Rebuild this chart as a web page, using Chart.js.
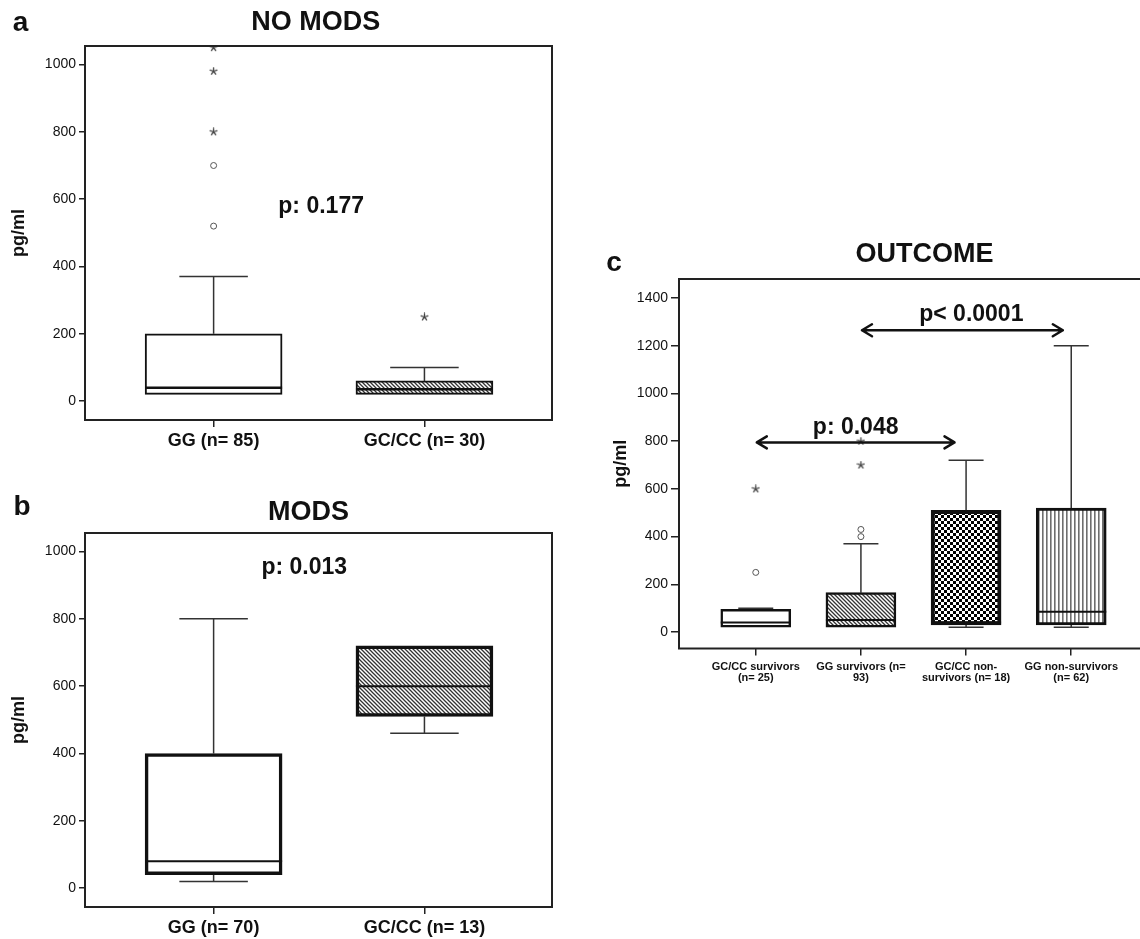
<!DOCTYPE html>
<html><head><meta charset="utf-8">
<script src="https://cdn.jsdelivr.net/npm/chart.js@4.4.0/dist/chart.umd.min.js"></script>
<style>
html,body{margin:0;padding:0;background:#fff;overflow:hidden;width:1140px;height:939px;position:relative;}
canvas{position:absolute;}
#ca{left:0;top:0;} #cb{left:0;top:468px;} #cc{left:590px;top:230px;}
</style></head><body>
<canvas id="ca" width="600" height="468"></canvas>
<canvas id="cb" width="600" height="471"></canvas>
<canvas id="cc" width="600" height="470"></canvas>
<script>
// ---------- data ----------
const catsA = ['GG (n= 85)', 'GC/CC (n= 30)'];
const lowA = [20, 20];
const q1A = [20, 20];
const medA = [40, 35];
const q3A = [200, 60];
const highA = [370, 100];
const circlesA = [[520, 700], []];
const starsA = [[800, 980, 1050], [250]];

const catsB = ['GG (n= 70)', 'GC/CC (n= 13)'];
const lowB = [20, 460];
const q1B = [40, 510];
const medB = [80, 600];
const q3B = [400, 720];
const highB = [800, 720];
const circlesB = [[], []];
const starsB = [[], []];

const catsC = [['GC/CC survivors', '(n= 25)'], ['GG survivors (n=', '93)'], ['GC/CC non-', 'survivors (n= 18)'], ['GG non-survivors', '(n= 62)']];
const lowC = [20, 20, 20, 20];
const q1C = [20, 20, 30, 30];
const medC = [40, 50, 40, 85];
const q3C = [95, 165, 510, 520];
const highC = [100, 370, 720, 1200];
const circlesC = [[250], [400, 430], [], []];
const starsC = [[600], [700, 800], [], []];

const yTicksAB = [0, 200, 400, 600, 800, 1000];
const yTicksC = [0, 200, 400, 600, 800, 1000, 1200, 1400];

// ---------- styling helpers ----------
Chart.defaults.font.family = "'Liberation Sans', Arial, sans-serif";
Chart.defaults.color = '#111';

function makePattern(kind) {
  const c = document.createElement('canvas');
  const g = c.getContext('2d');
  if (kind === 'diag') {
    c.width = 4; c.height = 4;
    g.fillStyle = '#fff'; g.fillRect(0, 0, 4, 4);
    g.strokeStyle = '#333'; g.lineWidth = 1.3;
    g.beginPath();
    g.moveTo(-1, -1); g.lineTo(5, 5);
    g.moveTo(-1, 3); g.lineTo(1, 5);
    g.moveTo(3, -1); g.lineTo(5, 1);
    g.stroke();
  } else if (kind === 'check') {
    c.width = 6; c.height = 6;
    g.fillStyle = '#fff'; g.fillRect(0, 0, 6, 6);
    g.fillStyle = '#000'; g.fillRect(0, 0, 3, 3); g.fillRect(3, 3, 3, 3);
  } else if (kind === 'vert') {
    c.width = 4; c.height = 4;
    g.fillStyle = '#fff'; g.fillRect(0, 0, 4, 4);
    g.fillStyle = '#6f6f6f'; g.fillRect(0, 0, 1.6, 4);
  } else {
    return '#fff';
  }
  return g.createPattern(c, 'repeat');
}

function makeStar() {
  const c = document.createElement('canvas');
  c.width = 9; c.height = 9;
  const g = c.getContext('2d');
  g.strokeStyle = '#444'; g.lineWidth = 1.3; g.lineCap = 'round';
  g.beginPath();
  for (let k = 0; k < 5; k++) {
    const a = -Math.PI / 2 + k * 2 * Math.PI / 5;
    g.moveTo(4.5, 4.5); g.lineTo(4.5 + 3.6 * Math.cos(a), 4.5 + 3.6 * Math.sin(a));
  }
  g.stroke();
  return c;
}

function pts(lists) {
  const out = [];
  lists.forEach((arr, i) => arr.forEach(v => out.push({x: i + 1, y: v})));
  return out;
}

const boxParts = {
  id: 'boxParts',
  beforeDatasetsDraw(chart, args, o) {
    const {ctx} = chart, xs = chart.scales.x, ys = chart.scales.y;
    const meta = chart.getDatasetMeta(0);
    ctx.save();
    ctx.strokeStyle = '#333'; ctx.lineWidth = 1.5;
    o.low.forEach((lo, i) => {
      const x = xs.getPixelForValue(i + 1);
      const half = meta.data[i].width / 4;
      ctx.beginPath();
      if (o.high[i] > o.q3[i]) {
        const yh = ys.getPixelForValue(o.high[i]), yq = ys.getPixelForValue(o.q3[i]);
        ctx.moveTo(x, yq); ctx.lineTo(x, yh);
        ctx.moveTo(x - half, yh); ctx.lineTo(x + half, yh);
      }
      if (lo < o.q1[i]) {
        const yl = ys.getPixelForValue(lo), yq = ys.getPixelForValue(o.q1[i]);
        ctx.moveTo(x, yq); ctx.lineTo(x, yl);
        ctx.moveTo(x - half, yl); ctx.lineTo(x + half, yl);
      }
      ctx.stroke();
    });
    ctx.restore();
  },
  afterDatasetsDraw(chart, args, o) {
    const {ctx} = chart, xs = chart.scales.x, ys = chart.scales.y;
    const meta = chart.getDatasetMeta(0);
    ctx.save();
    ctx.strokeStyle = '#111'; ctx.lineWidth = o.medWidth || 2;
    o.med.forEach((m, i) => {
      const x = xs.getPixelForValue(i + 1);
      const half = meta.data[i].width / 2;
      const y = ys.getPixelForValue(m);
      ctx.beginPath(); ctx.moveTo(x - half, y); ctx.lineTo(x + half, y); ctx.stroke();
    });
    ctx.restore();
  }
};

const frame = {
  id: 'frame',
  afterDraw(chart) {
    const {ctx, chartArea: a} = chart;
    ctx.save();
    ctx.strokeStyle = '#222'; ctx.lineWidth = 2;
    ctx.strokeRect(a.left, a.top, a.right - a.left, a.bottom - a.top);
    ctx.restore();
  }
};

const notes = {
  id: 'notes',
  afterDraw(chart, args, o) {
    const {ctx} = chart, xs = chart.scales.x, ys = chart.scales.y;
    ctx.save();
    (o.arrows || []).forEach(a => {
      const x1 = xs.getPixelForValue(a.from), x2 = xs.getPixelForValue(a.to), y = ys.getPixelForValue(a.y);
      ctx.strokeStyle = '#111'; ctx.lineWidth = 2.5; ctx.lineCap = 'round'; ctx.lineJoin = 'round';
      ctx.beginPath();
      ctx.moveTo(x1, y); ctx.lineTo(x2, y);
      ctx.moveTo(x1 + 10, y - 6); ctx.lineTo(x1, y); ctx.lineTo(x1 + 10, y + 6);
      ctx.moveTo(x2 - 10, y - 6); ctx.lineTo(x2, y); ctx.lineTo(x2 - 10, y + 6);
      ctx.stroke();
    });
    (o.texts || []).forEach(t => {
      const x = t.data ? xs.getPixelForValue(t.x) : t.x;
      const y = t.data ? ys.getPixelForValue(t.y) : t.y;
      ctx.font = t.font; ctx.fillStyle = '#111'; ctx.textAlign = 'center'; ctx.textBaseline = 'middle';
      ctx.fillText(t.text, x, y);
    });
    ctx.restore();
  }
};

const starImg = makeStar();

function makeChart(id, c) {
  const canvas = document.getElementById(id);
  const W = canvas.width, H = canvas.height;
  return new Chart(canvas, {
    type: 'bar',
    data: {
      datasets: [
        {type: 'bar', data: c.cats.map((n, i) => ({x: i + 1, y: [c.q1[i], c.q3[i]]})),
         backgroundColor: c.fills, borderColor: '#111', borderWidth: c.borderWidths,
         borderSkipped: false, barThickness: c.barPx, order: 2},
        {type: 'scatter', data: pts(c.circles), pointStyle: 'circle', radius: 3,
         borderColor: '#555', backgroundColor: '#fff', borderWidth: 1, order: 1},
        {type: 'scatter', data: pts(c.stars), pointStyle: starImg, radius: 4, order: 1}
      ]
    },
    options: {
      responsive: false, animation: false, devicePixelRatio: 1,
      layout: {padding: {left: 0, top: c.area.top, right: W - c.area.right, bottom: 0}},
      plugins: {
        legend: {display: false}, tooltip: {enabled: false},
        boxParts: {low: c.low, q1: c.q1, med: c.med, q3: c.q3, high: c.high, medWidth: c.medWidth},
        notes: {texts: c.texts, arrows: c.arrows}
      },
      scales: {
        x: {
          type: 'linear', min: c.xMin, max: c.xMax, offset: false,
          afterFit: s => { s.height = H - c.area.bottom; },
          afterBuildTicks: s => { s.ticks = c.cats.map((n, i) => ({value: i + 1})); },
          grid: {display: true, drawOnChartArea: false, drawTicks: true, tickLength: 7, color: '#222', lineWidth: 1.5, offset: false},
          border: {display: false},
          ticks: {autoSkip: false, maxRotation: 0, minRotation: 0, padding: c.xPad, color: '#111', font: c.xFont,
                  callback: (v, i) => c.cats[i]}
        },
        y: {
          type: 'linear', min: c.yMin, max: c.yMax,
          afterFit: s => { s.width = c.area.left; },
          afterBuildTicks: s => { s.ticks = c.yTicks.map(v => ({value: v})); },
          grid: {display: true, drawOnChartArea: false, drawTicks: true, tickLength: c.yTickLen, color: '#222', lineWidth: 1.5},
          border: {display: false},
          ticks: {padding: 3, color: '#111', font: {size: 14}, callback: v => String(v)},
          title: {display: true, text: 'pg/ml', color: '#111', font: {size: 18, weight: 'bold'},
                  padding: {top: c.yTitlePad, bottom: 0}}
        }
      }
    },
    plugins: [boxParts, frame, notes]
  });
}

const white = makePattern('none'), diag = makePattern('diag'), check = makePattern('check'), vert = makePattern('vert');
const bigFont = "bold 27px 'Liberation Sans', Arial, sans-serif";
const letterFont = "bold 28px 'Liberation Sans', Arial, sans-serif";
const pFont = "bold 23px 'Liberation Sans', Arial, sans-serif";

makeChart('ca', {
  cats: catsA, low: lowA, q1: q1A, med: medA, q3: q3A, high: highA, circles: circlesA, stars: starsA,
  fills: [white, diag], borderWidths: [2, 2], barPx: 137, medWidth: 2.5,
  area: {left: 85, top: 46, right: 552, bottom: 420},
  xMin: 0.39, xMax: 2.605, yMin: -56, yMax: 1055, yTicks: yTicksAB, yTickLen: 6, yTitlePad: 8.2,
  xFont: {size: 18, weight: 'bold'}, xPad: 3,
  texts: [
    {text: 'a', x: 20.5, y: 23, font: letterFont},
    {text: 'NO MODS', x: 315.7, y: 23, font: bigFont},
    {text: 'p: 0.177', data: true, x: 1.51, y: 577, font: pFont}
  ]
});

makeChart('cb', {
  cats: catsB, low: lowB, q1: q1B, med: medB, q3: q3B, high: highB, circles: circlesB, stars: starsB,
  fills: [white, diag], borderWidths: [3.5, 3.5], barPx: 137, medWidth: 2,
  area: {left: 85, top: 65, right: 552, bottom: 439},
  xMin: 0.39, xMax: 2.605, yMin: -56, yMax: 1055, yTicks: yTicksAB, yTickLen: 6, yTitlePad: 8.2,
  xFont: {size: 18, weight: 'bold'}, xPad: 3,
  texts: [
    {text: 'b', x: 22, y: 39, font: letterFont},
    {text: 'MODS', x: 308.6, y: 45, font: bigFont},
    {text: 'p: 0.013', data: true, x: 1.43, y: 951, font: pFont}
  ]
});

makeChart('cc', {
  cats: catsC, low: lowC, q1: q1C, med: medC, q3: q3C, high: highC, circles: circlesC, stars: starsC,
  fills: [white, diag, check, vert], borderWidths: [2.5, 2.5, 4, 3], barPx: 70, medWidth: 2,
  area: {left: 89, top: 49, right: 558, bottom: 418.5},
  xMin: 0.27, xMax: 4.73, yMin: -69, yMax: 1480, yTicks: yTicksC, yTickLen: 8, yTitlePad: 20.2,
  xFont: {size: 11, weight: 'bold', lineHeight: 0.95}, xPad: 6.5,
  texts: [
    {text: 'c', x: 24, y: 33.5, font: letterFont},
    {text: 'OUTCOME', x: 334.6, y: 25, font: bigFont},
    {text: 'p< 0.0001', data: true, x: 3.05, y: 1329, font: pFont},
    {text: 'p: 0.048', data: true, x: 1.95, y: 855, font: pFont}
  ],
  arrows: [
    {from: 1.01, to: 2.89, y: 795},
    {from: 2.01, to: 3.92, y: 1265}
  ]
});
</script>
</body></html>
